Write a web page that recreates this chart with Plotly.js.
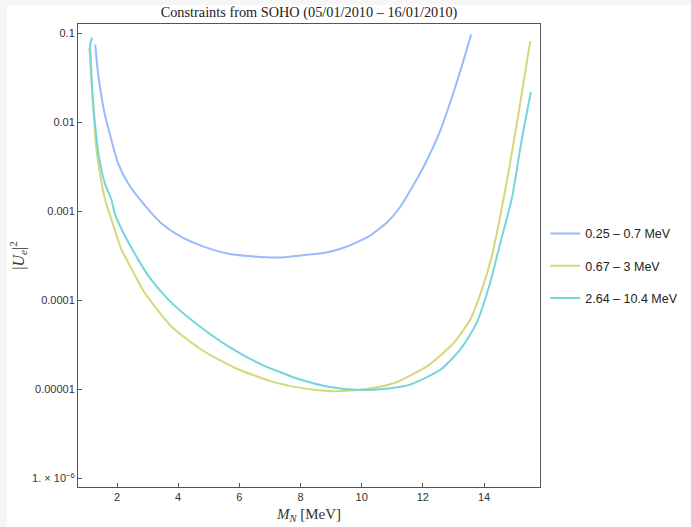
<!DOCTYPE html>
<html>
<head>
<meta charset="utf-8">
<script src="https://cdn.plot.ly/plotly-3.0.1.min.js"></script>
<style>
html,body{margin:0;padding:0;background:#f6f6f6;width:691px;height:527px;overflow:hidden;}
#chart{position:absolute;left:7px;top:5px;width:684px;height:522px;background:#fff;}
</style>
</head>
<body>
<div id="chart"></div>
<script>
// Series: 0.25 – 0.7 MeV
const blueX = [1.29, 1.37, 1.585, 1.82, 2.04, 2.37, 2.91, 3.46, 4.0, 4.76, 5.64, 6.3, 6.84, 7.5, 8.0, 8.75, 9.41, 10.22, 10.84, 11.26, 11.6, 12.02, 12.57, 13.06, 13.33, 13.58];
const blueY = [0.075, 0.0384, 0.0131, 0.0063, 0.00344, 0.00205, 0.00117, 7.3e-4, 5.4e-4, 4.1e-4, 3.35e-4, 3.15e-4, 3.05e-4, 3.05e-4, 3.2e-4, 3.4e-4, 3.9e-4, 5.2e-4, 7.6e-4, 1.12e-3, 1.75e-3, 3.16e-3, 8.1e-3, 0.025, 0.0498, 0.0975];
// Series: 0.67 – 3 MeV
const yellowX = [1.095, 1.17, 1.26, 1.33, 1.48, 1.61, 1.72, 2.04, 2.15, 2.53, 2.91, 3.78, 4.76, 5.86, 7.05, 8.0, 8.6, 9.19, 10.17, 11.04, 12.13, 13.0, 13.55, 13.93, 14.25, 14.53, 14.85, 15.18, 15.51];
const yellowY = [0.069, 0.0272, 0.00966, 0.0049, 0.00226, 0.00135, 0.00103, 4.7e-4, 3.7e-4, 2.09e-4, 1.21e-4, 5.1e-5, 2.79e-5, 1.74e-5, 1.23e-5, 1.04e-5, 9.8e-6, 9.55e-6, 1.01e-5, 1.17e-5, 1.81e-5, 3.3e-5, 6.1e-5, 1.32e-4, 3.1e-4, 8.8e-4, 3.44e-3, 0.0162, 0.082];
// Series: 2.64 – 10.4 MeV
const cyanX = [1.19, 1.13, 1.14, 1.19, 1.28, 1.41, 1.61, 1.82, 1.93, 2.37, 3.02, 3.68, 4.55, 5.64, 6.73, 7.99, 8.86, 9.84, 10.71, 11.58, 12.57, 13.22, 13.76, 14.2, 14.53, 14.91, 15.23, 15.53];
const cyanY = [0.0895, 0.078, 0.055, 0.023, 0.0097, 0.0041, 0.00204, 0.00135, 9.4e-4, 4.5e-4, 1.9e-4, 1.02e-4, 5.6e-5, 3.04e-5, 1.9e-5, 1.29e-5, 1.08e-5, 9.9e-6, 1.01e-5, 1.13e-5, 1.66e-5, 2.79e-5, 5.6e-5, 1.58e-4, 4.4e-4, 1.4e-3, 6.3e-3, 0.022];

const seriesNames = ["0.25 – 0.7 MeV", "0.67 – 3 MeV", "2.64 – 10.4 MeV"];
const yTickVals = [0.1, 0.01, 0.001, 0.0001, 0.00001, 0.000001];
const yTickText = ["0.1", "0.01", "0.001", "0.0001", "0.00001", "1. × 10<sup>−6</sup>"];
const xTickVals = [2, 4, 6, 8, 10, 12, 14];

const colors = ["#97bbfb", "#d5d878", "#72d6da"];
const xs = [blueX, yellowX, cyanX];
const ys = [blueY, yellowY, cyanY];

const traces = seriesNames.map((n, i) => ({
  x: xs[i], y: ys[i], name: n, type: "scatter", mode: "lines",
  legendgroup: "g" + i,
  line: {color: colors[i], width: 2, shape: "spline", smoothing: 0.6}
}));

const axisCommon = {
  showline: true, mirror: true, linecolor: "#555", linewidth: 1,
  ticks: "inside", ticklen: 4, tickcolor: "#555", tickwidth: 1,
  showgrid: false, zeroline: false, automargin: false,
  tickfont: {family: "Liberation Sans, Arial, sans-serif", size: 11, color: "#333"}
};

const layout = {
  width: 684, height: 522,
  paper_bgcolor: "#fff", plot_bgcolor: "#fff",
  margin: {l: 71, r: 151, t: 19, b: 40, autoexpand: false},
  title: {
    text: "Constraints from SOHO (05/01/2010 – 16/01/2010)",
    font: {family: "Liberation Serif, Times New Roman, serif", size: 14.3, color: "#222"},
    x: 0.5, xref: "paper", xanchor: "center",
    y: 0.987, yref: "container", yanchor: "middle"
  },
  xaxis: Object.assign({}, axisCommon, {
    range: [0.725, 15.83], tickvals: xTickVals, ticktext: xTickVals.map(String),
    title: {text: "<i>M</i><sub><i>N</i></sub> [MeV]", standoff: 6,
      font: {family: "Liberation Serif, Times New Roman, serif", size: 15, color: "#333"}}
  }),
  yaxis: Object.assign({}, axisCommon, {
    type: "log", range: [-6.097, -0.894],
    tickvals: yTickVals, ticktext: yTickText,
    title: {text: "|<i>U</i><sub><i>e</i></sub>|<sup>2</sup>", standoff: 3,
      font: {family: "Liberation Serif, Times New Roman, serif", size: 16, color: "#333"}}
  }),
  showlegend: true,
  legend: {
    x: 1.0115, xanchor: "left", y: 0.4775, yanchor: "middle",
    font: {family: "Liberation Sans, Arial, sans-serif", size: 12.5, color: "#222"},
    tracegroupgap: 13, bgcolor: "rgba(0,0,0,0)"
  }
};

Plotly.newPlot("chart", traces, layout, {displayModeBar: false, staticPlot: true});
</script>
</body>
</html>
